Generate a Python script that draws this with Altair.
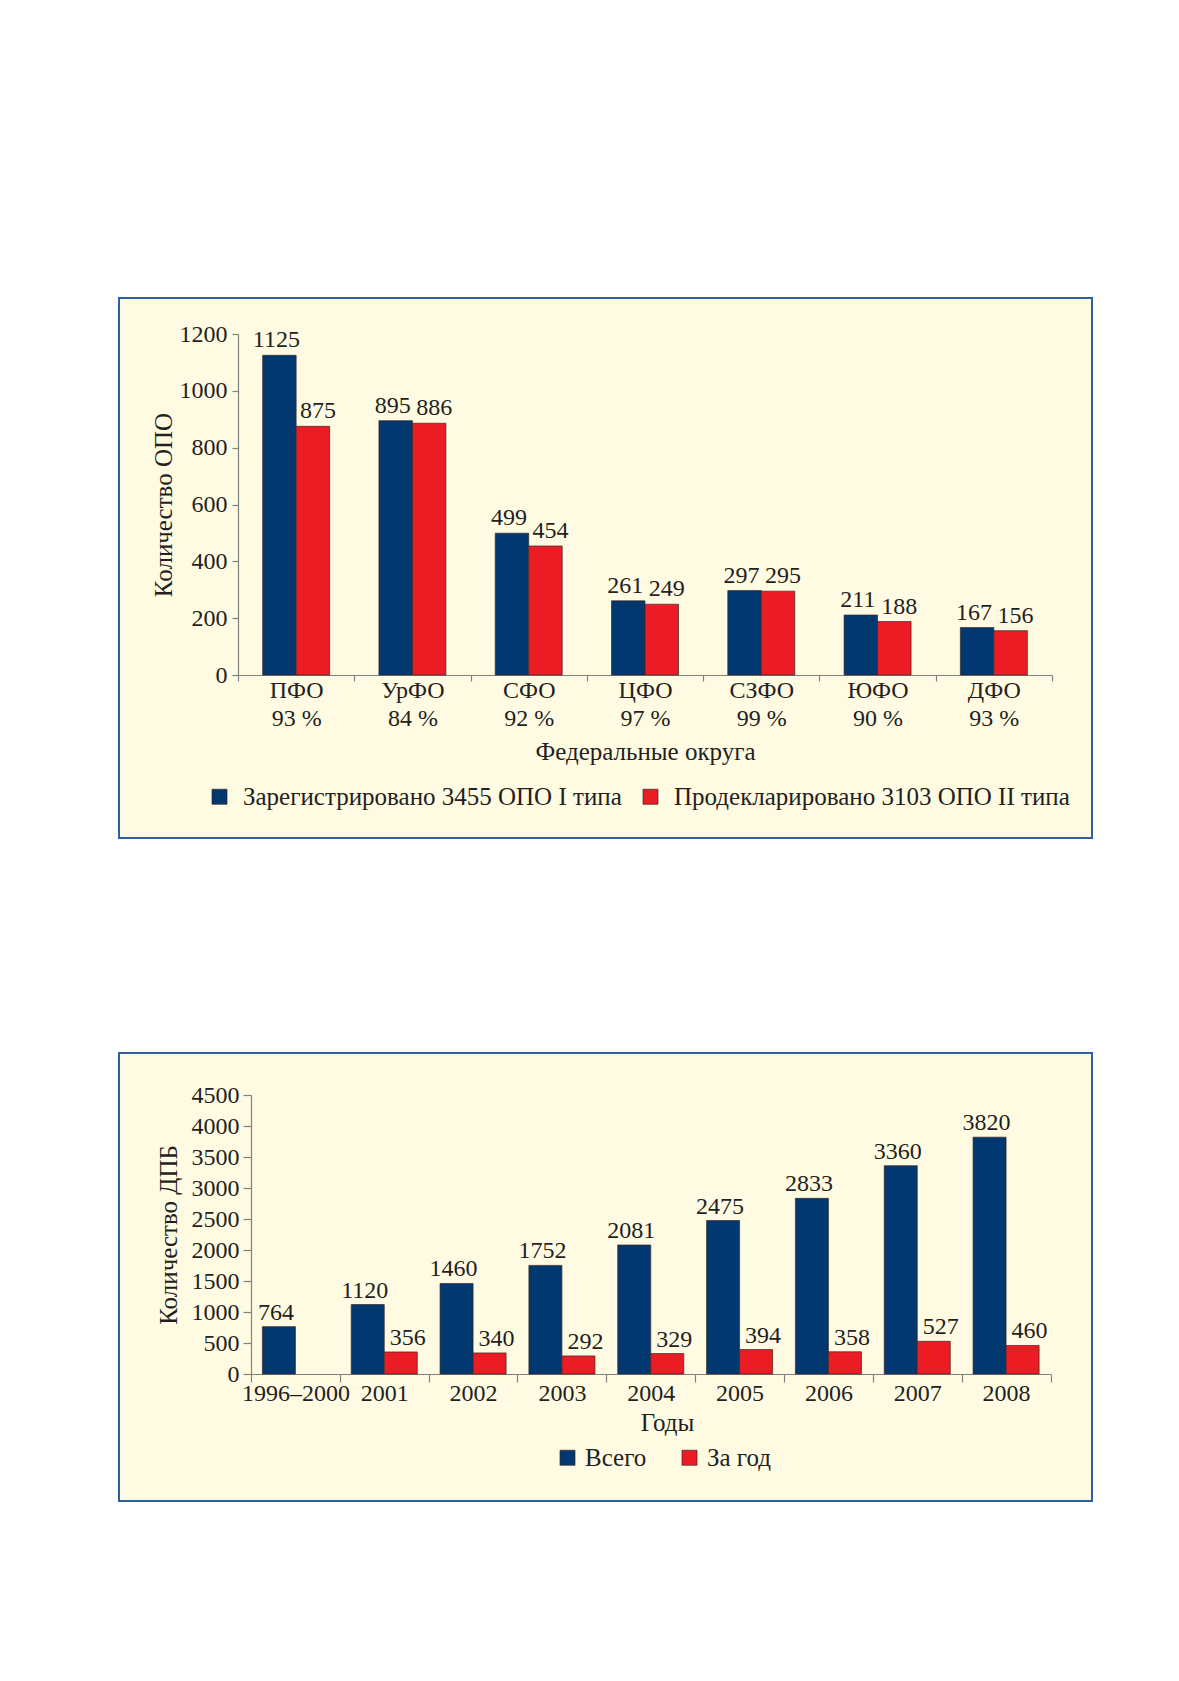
import altair as alt
import pandas as pd

# ---------------- data ----------------
districts = ["ПФО", "УрФО", "СФО", "ЦФО", "СЗФО", "ЮФО", "ДФО"]
district_share = ["93 %", "84 %", "92 %", "97 %", "99 %", "90 %", "93 %"]
registered_type1 = [1125, 895, 499, 261, 297, 211, 167]
declared_type2 = [875, 886, 454, 249, 295, 188, 156]
series_opo = ["Зарегистрировано 3455 ОПО I типа", "Продекларировано 3103 ОПО II типа"]
ticks_opo = [0, 200, 400, 600, 800, 1000, 1200]

years = ["1996–2000", "2001", "2002", "2003", "2004", "2005", "2006", "2007", "2008"]
dpb_total = [764, 1120, 1460, 1752, 2081, 2475, 2833, 3360, 3820]
dpb_year = [None, 356, 340, 292, 329, 394, 358, 527, 460]
series_dpb = ["Всего", "За год"]
ticks_dpb = [0, 500, 1000, 1500, 2000, 2500, 3000, 3500, 4000, 4500]

# ---------------- style ----------------
BLUE = "#00386f"
RED = "#ec1c24"
TEXT = "#231f20"
AXIS = "#808080"
BG = "#fffbe3"
BORDER = "#2f5f9e"
FONT = "Liberation Serif"

labels1 = [f"{d}\n{s}" for d, s in zip(districts, district_share)]
rows1 = []
for lab, a, b in zip(labels1, registered_type1, declared_type2):
    rows1.append({"district": lab, "series": series_opo[0], "value": a})
    rows1.append({"district": lab, "series": series_opo[1], "value": b})
df1 = pd.DataFrame(rows1)

rows2 = []
for yv, a, b in zip(years, dpb_total, dpb_year):
    rows2.append({"year": yv, "series": series_dpb[0], "value": a})
    if b is not None:
        rows2.append({"year": yv, "series": series_dpb[1], "value": b})
df2 = pd.DataFrame(rows2)

W, H1, H2 = 973, 540, 448
Y0_1, Y1_1 = 377, 36        # pixel rows of 0 and 1200 inside box 1
Y0_2, Y1_2 = 321, 42        # pixel rows of 0 and 4500 inside box 2

# ---------------- chart 1 ----------------
x1 = alt.X(
    "district:N", sort=labels1, title="Федеральные округа",
    scale=alt.Scale(range=[119, 933], paddingInner=0, paddingOuter=0),
    axis=alt.Axis(offset=Y0_1 - H1, tickBand="extent", tickSize=6, labelPadding=-3,
                  labelLineHeight=28, labelExpr="split(datum.label, '\\n')",
                  labelAngle=0, titlePadding=9),
)
xo1 = alt.XOffset("series:N", scale=alt.Scale(domain=series_opo, paddingOuter=0.736, paddingInner=0))
y1 = alt.Y(
    "value:Q", title="Количество ОПО",
    scale=alt.Scale(domain=[0, 1200], range=[Y0_1, Y1_1], nice=False, zero=True),
    axis=alt.Axis(values=ticks_opo, format="d", offset=-119, tickSize=6, labelPadding=5, titlePadding=3),
)
color1 = alt.Color(
    "series:N",
    scale=alt.Scale(domain=series_opo, range=[BLUE, RED]),
    legend=alt.Legend(orient="none", legendX=88, legendY=486, direction="horizontal",
                      title=None, columnPadding=16, labelOffset=11),
)
base1 = alt.Chart(df1)
bars1 = base1.mark_bar(stroke="#3a2626", strokeWidth=0.7).encode(x=x1, xOffset=xo1, y=y1, color=color1)
tb1 = base1.transform_filter(alt.datum.series == series_opo[0]).mark_text(
    dy=-8, dx=-3, baseline="alphabetic", font=FONT, fontSize=24, color=TEXT
).encode(x=x1, xOffset=xo1, y=y1, text="value:Q")
tr1 = base1.transform_filter(alt.datum.series == series_opo[1]).mark_text(
    dy=-8, dx=5, baseline="alphabetic", font=FONT, fontSize=24, color=TEXT
).encode(x=x1, xOffset=xo1, y=y1, text="value:Q")
chart1 = alt.layer(bars1, tb1, tr1).properties(width=W, height=H1)

# ---------------- chart 2 ----------------
x2 = alt.X(
    "year:N", sort=years, title="Годы",
    scale=alt.Scale(range=[132, 931.5], paddingInner=0, paddingOuter=0),
    axis=alt.Axis(offset=Y0_2 - H2, tickBand="extent", tickSize=8, labelPadding=-1,
                  labelAngle=0, titlePadding=5, titleX=548),
)
xo2 = alt.XOffset("series:N", scale=alt.Scale(domain=series_dpb, paddingOuter=0.345, paddingInner=0))
y2 = alt.Y(
    "value:Q", title="Количество ДПБ",
    scale=alt.Scale(domain=[0, 4500], range=[Y0_2, Y1_2], nice=False, zero=True),
    axis=alt.Axis(values=ticks_dpb, format="d", offset=-132, tickSize=8, labelPadding=4, titlePadding=10),
)
color2 = alt.Color(
    "series:N",
    scale=alt.Scale(domain=series_dpb, range=[BLUE, RED]),
    legend=alt.Legend(orient="none", legendX=436, legendY=392, direction="horizontal",
                      title=None, columnPadding=30, labelOffset=5),
)
base2 = alt.Chart(df2)
bars2 = base2.mark_bar(stroke="#3a2626", strokeWidth=0.7).encode(x=x2, xOffset=xo2, y=y2, color=color2)
tb2 = base2.transform_filter(alt.datum.series == series_dpb[0]).mark_text(
    dy=-7, dx=-3, baseline="alphabetic", font=FONT, fontSize=24, color=TEXT
).encode(x=x2, xOffset=xo2, y=y2, text="value:Q")
tr2 = base2.transform_filter(alt.datum.series == series_dpb[1]).mark_text(
    dy=-7, dx=7, baseline="alphabetic", font=FONT, fontSize=24, color=TEXT
).encode(x=x2, xOffset=xo2, y=y2, text="value:Q")
chart2 = alt.layer(bars2, tb2, tr2).properties(width=W, height=H2)

chart = (
    alt.vconcat(chart1, chart2, spacing=213)
    .resolve_scale(color="independent", x="independent", y="independent", xOffset="independent")
    .properties(padding={"left": 110, "top": 289, "right": 10, "bottom": 10}, background="white")
    .configure(font=FONT)
    .configure_view(fill=BG, stroke=BORDER, strokeWidth=2)
    .configure_axis(
        domainColor=AXIS, tickColor=AXIS, domainWidth=1.2, tickWidth=1.2,
        labelColor=TEXT, titleColor=TEXT, labelFont=FONT, titleFont=FONT,
        labelFontSize=24, titleFontSize=25, titleFontWeight="normal", grid=False, zindex=1,
    )
    .configure_legend(
        labelFont=FONT, labelFontSize=25, labelColor=TEXT, symbolType="square",
        symbolSize=225, symbolStrokeWidth=0.7, symbolStrokeColor="#3a2626", padding=0,
        labelLimit=0,
    )
)

chart.save("out.html", embed_options={"renderer": "svg", "actions": False})
